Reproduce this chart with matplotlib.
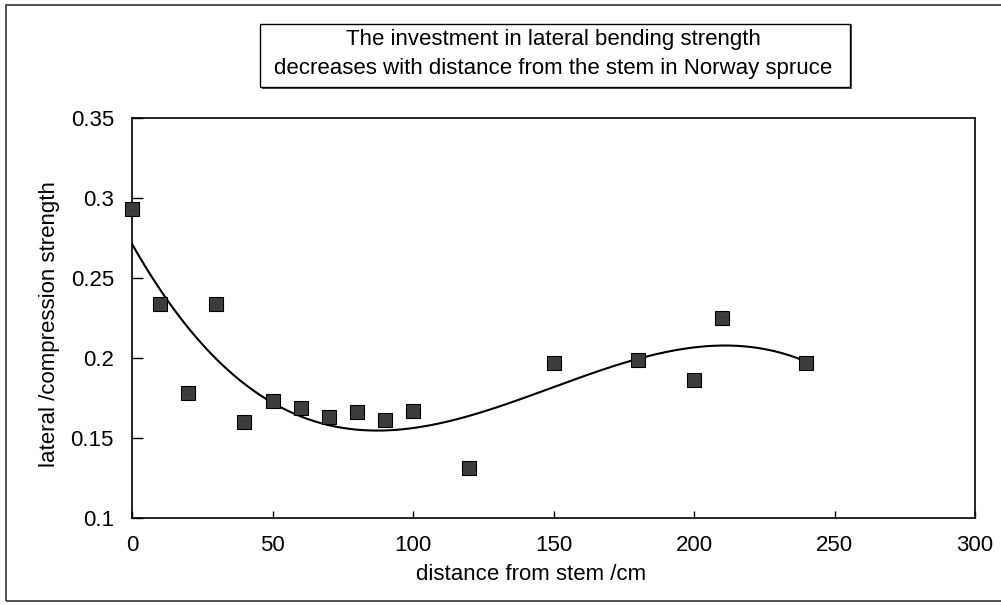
import numpy as np
import matplotlib
matplotlib.use("Agg")
import matplotlib.pyplot as plt
from matplotlib.patches import Rectangle

plt.rcParams['font.family'] = ['Liberation Sans', 'DejaVu Sans']

# data
dist = [0, 10, 20, 30, 40, 50, 60, 70, 80, 90, 100, 120, 150, 180, 200, 210, 240]
ratio = [0.293, 0.234, 0.178, 0.234, 0.160, 0.173, 0.169, 0.163, 0.166,
         0.161, 0.167, 0.131, 0.197, 0.199, 0.186, 0.225, 0.197]

title = ("The investment in lateral bending strength\n"
         "decreases with distance from the stem in Norway spruce")
xlabel = "distance from stem /cm"
ylabel = "lateral /compression strength"
xticks = [0, 50, 100, 150, 200, 250, 300]
yticks = [0.1, 0.15, 0.2, 0.25, 0.3, 0.35]
yticklabels = ["0.1", "0.15", "0.2", "0.25", "0.3", "0.35"]

W, H = 1001, 605
FS = 16
fig = plt.figure(figsize=(W / 100, H / 100), dpi=100)


def fx(px):
    return px / W


def fy(py):
    return 1 - py / H


# outer frame of the scanned figure
fig.add_artist(Rectangle((fx(6), fy(601)), fx(1010 - 6), (601 - 5) / H,
                         transform=fig.transFigure, fill=False,
                         edgecolor='#333333', linewidth=1.2))

ax = fig.add_axes([fx(132), fy(518), fx(975 - 132), (518 - 118) / H])

# cubic trend line fitted to the points (as in the original figure)
coef = np.polyfit(dist, ratio, 3)
xs = np.linspace(min(dist), max(dist), 200)
ax.plot(xs, np.polyval(coef, xs), color='black', linewidth=1.5, zorder=2)
ax.plot(dist, ratio, linestyle='none', marker='s', markersize=10,
        markerfacecolor='#3c3c3c', markeredgecolor='black',
        markeredgewidth=0.8, zorder=3, clip_on=False)

ax.set_xlim(0, 300)
ax.set_ylim(0.1, 0.35)
ax.set_xticks(xticks)
ax.set_yticks(yticks)
ax.set_yticklabels(yticklabels)
ax.tick_params(axis='both', direction='in', labelsize=FS, width=1)
ax.tick_params(axis='x', length=5, pad=12)
ax.tick_params(axis='y', length=8, pad=13)
for s in ax.spines.values():
    s.set_linewidth(1.2)

fig.text(fx(531), fy(575), xlabel, ha='center', va='center', fontsize=FS)
fig.text(fx(50), fy(324), ylabel, ha='center', va='center', fontsize=FS,
         rotation=90)

# title box with a small drop shadow
fig.add_artist(Rectangle((fx(262), fy(89)), fx(850 - 260), (89 - 24) / H,
                         transform=fig.transFigure, facecolor='#555555',
                         edgecolor='none'))
fig.add_artist(Rectangle((fx(260), fy(87)), fx(850 - 260), (87 - 24) / H,
                         transform=fig.transFigure, facecolor='white',
                         edgecolor='black', linewidth=1))
fig.text(fx(553), fy(54), title, ha='center', va='center', fontsize=FS,
         linespacing=1.45)

fig.savefig("out.png", dpi=100)
